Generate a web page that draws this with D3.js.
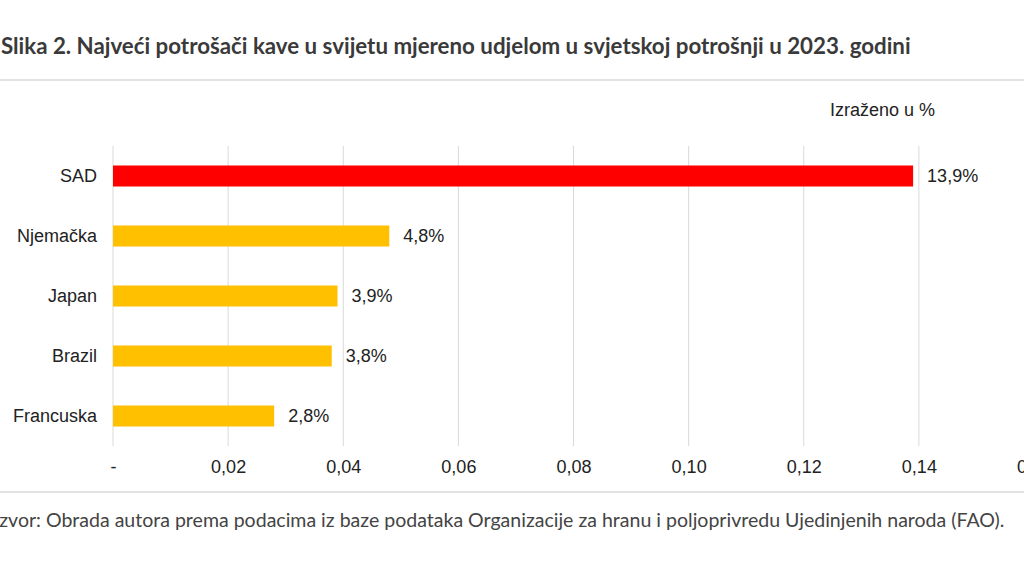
<!DOCTYPE html>
<html>
<head>
<meta charset="utf-8">
<script src="https://cdn.jsdelivr.net/npm/d3@7"></script>
<style>
  body { margin: 0; background: #fff; }
</style>
</head>
<body>
<svg id="chart"></svg>
<script>
    var countries = ["SAD", "Njemačka", "Japan", "Brazil", "Francuska"];
    var shares = [0.139, 0.048, 0.039, 0.038, 0.028];
    var shareLabels = ["13,9%", "4,8%", "3,9%", "3,8%", "2,8%"];
    var tickValues = [0, 0.02, 0.04, 0.06, 0.08, 0.10, 0.12, 0.14, 0.16];
    var tickLabels = ["-", "0,02", "0,04", "0,06", "0,08", "0,10", "0,12", "0,14", "0,16"];

    var titleText = "Slika 2. Najveći potrošači kave u svijetu mjereno udjelom u svjetskoj potrošnji u 2023. godini";
    var sourceText = "Izvor: Obrada autora prema podacima iz baze podataka Organizacije za hranu i poljoprivredu Ujedinjenih naroda (FAO).";
    var unitText = "Izraženo u %";

    var width = 1024,
        height = 577;

    var labelFont = "'Liberation Sans', Arial, sans-serif";

    var svg = d3.select("#chart")
        .attr("width", width)
        .attr("height", height);

    // title + separator lines
    svg.append("text")
        .attr("x", 1)
        .attr("y", 54)
        .style("font-family", "Lato, sans-serif")
        .style("font-weight", "700")
        .style("font-size", "22.3px")
        .style("fill", "#3a3a3a")
        .text(titleText);

    svg.append("line")
        .attr("x1", 0).attr("x2", width)
        .attr("y1", 80).attr("y2", 80)
        .style("stroke", "#e3e3e3")
        .style("stroke-width", 2);

    svg.append("line")
        .attr("x1", 0).attr("x2", width)
        .attr("y1", 492).attr("y2", 492)
        .style("stroke", "#e3e3e3")
        .style("stroke-width", 2);

    svg.append("text")
        .attr("x", -6)
        .attr("y", 527)
        .style("font-family", "Lato, sans-serif")
        .style("font-size", "19.55px")
        .style("fill", "#444")
        .text(sourceText);

    var x = d3.scaleLinear().domain([0, 0.16]).range([113, 1034]);
    var y = d3.scaleBand().domain(countries).range([146, 446]).paddingInner(0.65).paddingOuter(0.325);

    var g = svg.append("g");

    // gridlines
    g.selectAll(".grid")
        .data(tickValues)
        .enter().append("line")
        .attr("class", "grid")
        .attr("x1", function(d) { return x(d); })
        .attr("x2", function(d) { return x(d); })
        .attr("y1", 146)
        .attr("y2", 446)
        .style("stroke", "#d9d9d9")
        .style("stroke-width", 1);

    // x axis labels
    var xAxis = d3.axisBottom(x)
        .tickValues(tickValues)
        .tickSize(0)
        .tickPadding(0)
        .tickFormat(function(d, i) { return tickLabels[i]; });

    g.append("g")
        .attr("transform", "translate(0,460)")
        .call(xAxis)
        .call(function(a) { a.select(".domain").remove(); })
        .selectAll("text")
        .style("font-family", labelFont)
        .style("font-size", "18px")
        .style("fill", "#222");

    // y axis labels
    var yAxis = d3.axisLeft(y).tickSize(0).tickPadding(16);

    g.append("g")
        .attr("transform", "translate(113,0)")
        .call(yAxis)
        .call(function(a) { a.select(".domain").remove(); })
        .selectAll("text")
        .style("font-family", labelFont)
        .style("font-size", "18px")
        .style("fill", "#222");

    // bars
    g.selectAll(".bar")
        .data(countries)
        .enter().append("rect")
        .attr("class", "bar")
        .attr("x", x(0))
        .attr("y", function(d) { return y(d); })
        .attr("width", function(d, i) { return x(shares[i]) - x(0); })
        .attr("height", y.bandwidth())
        .style("fill", function(d, i) { return i === 0 ? "#ff0000" : "#ffc000"; });

    // value labels
    g.selectAll(".val")
        .data(countries)
        .enter().append("text")
        .attr("class", "val")
        .attr("x", function(d, i) { return x(shares[i]) + 14; })
        .attr("y", function(d) { return y(d) + y.bandwidth() / 2; })
        .attr("dy", ".35em")
        .style("font-family", labelFont)
        .style("font-size", "18px")
        .style("fill", "#222")
        .text(function(d, i) { return shareLabels[i]; });

    svg.append("text")
        .attr("x", 935)
        .attr("y", 116)
        .style("text-anchor", "end")
        .style("font-family", labelFont)
        .style("font-size", "18px")
        .style("fill", "#222")
        .text(unitText);
</script>
</body>
</html>
